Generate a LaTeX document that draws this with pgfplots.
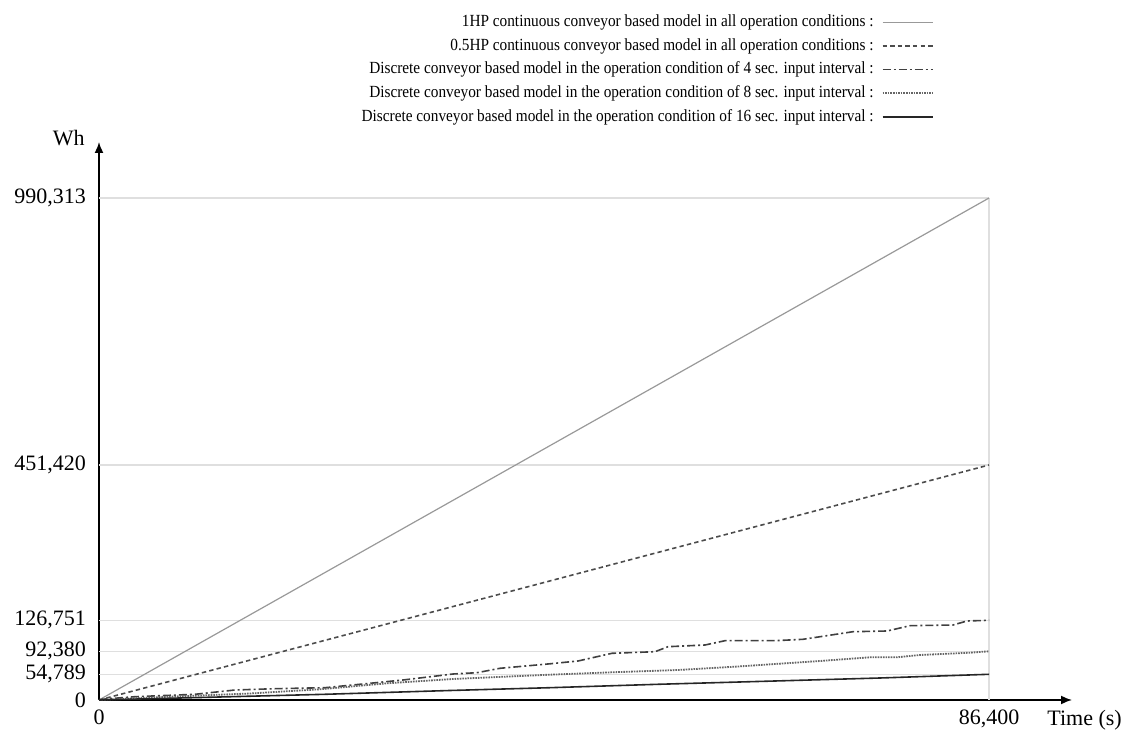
\documentclass[border=0pt]{standalone}
\usepackage{fontspec}
\setmainfont{Liberation Serif}
\newfontfamily\legfont[FakeStretch=0.9]{Liberation Serif}
\usepackage{pgfplots}
\pgfplotsset{compat=1.18}
\usetikzlibrary{arrows.meta}

% the source chart spaces its Wh levels unevenly; map Wh piecewise onto its heights
\newcommand\whtrafo[1]{%
  \begingroup
  \pgfkeys{/pgf/fpu=true}%
  \pgfmathparse{ifthenelse(#1<54789, #1*25.7/54789,
    ifthenelse(#1<92380, 25.7+(#1-54789)*23/37591,
    ifthenelse(#1<126751, 48.7+(#1-92380)*31/34371,
    ifthenelse(#1<451420, 79.7+(#1-126751)*155.3/324669,
    235+(#1-451420)*267/538893))))}%
  \pgfmathfloattofixed{\pgfmathresult}%
  \xdef\whres{\pgfmathresult}%
  \endgroup
  \let\pgfmathresult\whres}

\begin{document}
\begin{tikzpicture}
\path[use as bounding box] (0,0) rectangle (565pt,366.5pt);
\begin{axis}[
    at={(49.5pt,16.5pt)}, anchor=south west,
    scale only axis,
    width=486.5pt, height=279pt,
    y coord trafo/.code={\whtrafo{#1}},
    xmin=0, xmax=94455,
    ymin=0, ymax=1103338,
    clip=false,
    axis lines=left,
    axis line style={line width=0.8pt, -{Latex[length=5.5pt,width=4.5pt]}},
    scaled ticks=false,
    xtick={0,86400},
    xticklabels={0,{86,400}},
    ytick={0,54789,92380,126751,451420,990313},
    yticklabels={0,{54,789},{92,380},{126,751},{451,420},{990,313}},
    major tick length=0pt,
    tick label style={font=\fontsize{11}{13}\selectfont},
    xticklabel style={yshift=-1.5pt},
    yticklabel style={xshift=-3pt},
    legend plot pos=right,
    legend cell align=right,
    legend image code/.code={\draw[#1] (0pt,0pt) -- (25pt,0pt);},
    legend style={draw=none, fill=none, at={(0.858,1.2366)}, anchor=north east,
        inner sep=0pt, column sep=2pt,
        font=\legfont\fontsize{8.5}{10}\selectfont,
        nodes={text height=6pt, text depth=1.85pt, inner sep=2pt}},
]
% grid lines, drawn only up to the end of the day
\addplot[gray!25, line width=0.6pt, forget plot] coordinates {(0,54789) (86400,54789)};
\addplot[gray!25, line width=0.6pt, forget plot] coordinates {(0,92380) (86400,92380)};
\addplot[gray!25, line width=0.6pt, forget plot] coordinates {(0,126751) (86400,126751)};
\addplot[gray!25, line width=0.6pt, forget plot] coordinates {(0,451420) (86400,451420)};
\addplot[gray!25, line width=0.6pt, forget plot] coordinates {(0,990313) (86400,990313)};
\addplot[gray!25, line width=0.6pt, forget plot] coordinates {(86400,0) (86400,990313)};

% 1HP continuous
\addplot[gray!80, line width=0.6pt] coordinates {(0,0) (86400,990313)};
\addlegendentry{1HP continuous conveyor based model in all operation conditions :}
% 0.5HP continuous
\addplot[black!70, line width=0.8pt, dash pattern=on 2.2pt off 1.6pt] coordinates {(0,0) (86400,451420)};
\addlegendentry{0.5HP continuous conveyor based model in all operation conditions :}
% 4 sec
\addplot[black!75, line width=0.8pt, dash pattern=on 4pt off 1.5pt on 1pt off 1.5pt] coordinates {
    (0,0) (583,2132) (3495,7035) (9320,12152) (13203,21319) (17086,24090)
    (21940,26222) (26309,35603) (29512,42638) (34366,55279) (36697,57404)
    (38929,64595) (43783,71950) (46501,76527) (49802,89111) (53976,91726)
    (55238,97480) (58830,99365) (60772,104132) (65626,104132) (68344,105684)
    (73198,114111) (76499,114887) (78732,120763) (82906,121539) (84265,125974)
    (86400,126751)
};
\addlegendentry{Discrete conveyor based model in the operation condition of 4 sec. input interval :}
% 8 sec
\addplot[black!60, line width=0.9pt, dash pattern=on 0.8pt off 0.5pt] coordinates {
    (0,0) (4951,5330) (14659,13857) (21455,22811) (27959,35603) (34366,44770)
    (43783,53937) (49802,58058) (56209,61817) (61743,67210) (65626,71623)
    (69995,76527) (74849,82574) (77470,82574) (79703,86333) (84557,90092)
    (86400,92380)
};
\addlegendentry{Discrete conveyor based model in the operation condition of 8 sec. input interval :}
% 16 sec
\addplot[black!85, line width=0.8pt] coordinates {
    (0,0) (9805,5330) (21940,12152) (34075,20253) (43783,26222) (54268,33471)
    (65626,40506) (75819,46902) (86400,54789)
};
\addlegendentry{Discrete conveyor based model in the operation condition of 16 sec. input interval :}
\end{axis}
\node[anchor=east, inner sep=0pt, font=\fontsize{11}{13}\selectfont] at (42.5pt,297.5pt) {Wh};
\node[anchor=west, inner sep=0pt, font=\fontsize{11}{13}\selectfont] at (523.5pt,6.5pt) {Time (s)};
\end{tikzpicture}
\end{document}
